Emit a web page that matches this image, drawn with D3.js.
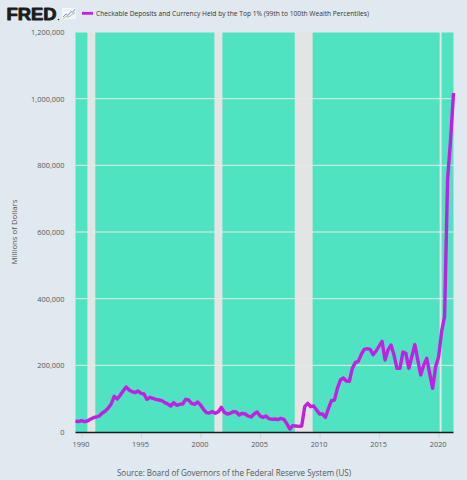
<!DOCTYPE html>
<html>
<head>
<meta charset="utf-8">
<script src="https://cdn.jsdelivr.net/npm/d3@7"></script>
<style>
    body { margin: 0; background: #e1e9f0; }
    svg { display: block; }
</style>
</head>
<body>
<div id="canvas"></div>
<script>
"use strict"

/* Quarterly values, millions of dollars, 1989Q3 through 2021Q2 */
let deposits = [
    33000, 31000, 34000, 31000,          // 1989Q3 - 1990Q2
    33000, 38000, 43000, 45000,          // 1990Q3 - 1991Q2
    48000, 57000, 63000, 72000,
    84000, 107000, 99000, 110000,
    123000, 135000, 126000, 121000,
    118000, 123000, 116000, 114000,
    98000, 104000, 101000, 98000,        // 1995Q3 - 1996Q2
    96000, 94000, 88000, 84000,
    78000, 88000, 80000, 83000,
    84000, 98000, 96000, 86000,
    83000, 90000, 81000, 68000,
    58000, 57000, 61000, 56000,          // 2000Q3 - 2001Q2
    61000, 74000, 59000, 54000,
    56000, 61000, 60000, 51000,
    56000, 54000, 48000, 45000,
    54000, 60000, 48000, 44000,
    48000, 40000, 38000, 39000,          // 2005Q3 - 2006Q2
    37000, 41000, 38000, 25000,
    9000, 19000, 18000, 17000,
    18000, 76000, 86000, 76000,
    78000, 66000, 54000, 54000,
    44000, 71000, 94000, 96000,          // 2010Q3 - 2011Q2
    131000, 156000, 162000, 153000,
    152000, 191000, 208000, 212000,
    232000, 248000, 250000, 248000,
    232000, 243000, 258000, 272000,
    216000, 246000, 261000, 231000,      // 2015Q3 - 2016Q2
    191000, 191000, 240000, 236000,
    191000, 226000, 262000, 216000,
    171000, 201000, 221000, 176000,
    131000, 196000, 226000, 301000,
    346000, 757000, 876000, 1017000      // 2020Q3 - 2021Q2
];

let firstQuarter = new Date(1989, 6, 1);
let lastQuarter = new Date(2021, 3, 1);

// NBER recessions shown as bands
let recessionStarts = ["1990-07-01", "2001-03-01", "2007-12-01", "2020-02-01"];
let recessionEnds = ["1991-03-01", "2001-11-01", "2009-06-01", "2020-04-01"];

let yTickValues = [0, 200000, 400000, 600000, 800000, 1000000, 1200000];
let xTickYears = [1990, 1995, 2000, 2005, 2010, 2015, 2020];

let seriesTitle = "Checkable Deposits and Currency Held by the Top 1% (99th to 100th Wealth Percentiles)";
let yTitle = "Millions of Dollars";
let sourceText = "Source: Board of Governors of the Federal Reserve System (US)";

/* set up the drawing canvas */
let drawing = d3.select("#canvas")
    .append("svg")
    .attr("width", 467)
    .attr("height", 480);

let parseDate = d3.timeParse("%Y-%m-%d");
let quarters = d3.timeMonth.range(firstQuarter, d3.timeMonth.offset(lastQuarter, 1), 3);
let points = quarters.map((d, i) => ({ date: d, value: deposits[i] }));

let plotLeft = 75.5, plotRight = 453.5, plotTop = 32, plotBottom = 432;

let x = d3.scaleTime()
    .domain([firstQuarter, lastQuarter])
    .range([plotLeft, plotRight]);

let y = d3.scaleLinear()
    .domain([0, 1200000])
    .range([plotBottom, plotTop]);

// plot background
drawing.append("rect")
    .attr("x", plotLeft)
    .attr("y", plotTop)
    .attr("width", plotRight - plotLeft)
    .attr("height", plotBottom - plotTop)
    .attr("fill", "#50e3c2");

// recession bands
drawing.append("g")
    .selectAll("rect")
    .data(recessionStarts)
    .join("rect")
    .attr("x", d => x(parseDate(d)))
    .attr("y", plotTop)
    .attr("width", (d, i) => x(parseDate(recessionEnds[i])) - x(parseDate(d)))
    .attr("height", plotBottom - plotTop)
    .attr("fill", "#e4e4e4");

// horizontal grid lines
drawing.append("g")
    .selectAll("line")
    .data(yTickValues.slice(1))
    .join("line")
    .attr("x1", plotLeft)
    .attr("x2", plotRight)
    .attr("y1", d => y(d))
    .attr("y2", d => y(d))
    .attr("stroke", "#e2ebe8")
    .attr("stroke-width", 1);

// y axis labels
let yAxis = drawing.append("g")
    .attr("transform", "translate(" + (plotLeft - 11) + ",0)")
    .call(d3.axisLeft(y).tickValues(yTickValues).tickSize(0).tickFormat(d3.format(",")));
yAxis.select(".domain").remove();
yAxis.selectAll("text")
    .attr("x", 0)
    .attr("font-family", "Open Sans")
    .attr("font-size", 7.4)
    .attr("fill", "#555");

// x axis
let xAxis = drawing.append("g")
    .attr("transform", "translate(0," + plotBottom + ")")
    .call(d3.axisBottom(x)
        .tickValues(xTickYears.map(yr => new Date(yr, 0, 1)))
        .tickSize(6)
        .tickPadding(4)
        .tickFormat(d3.timeFormat("%Y")));
xAxis.select(".domain").remove();
xAxis.selectAll("line").attr("stroke", "#c8d3e6");
xAxis.selectAll("text")
    .attr("dx", -1)
    .attr("font-family", "Open Sans")
    .attr("font-size", 7.4)
    .attr("fill", "#555");

drawing.append("line")
    .attr("x1", plotLeft)
    .attr("x2", plotRight)
    .attr("y1", plotBottom + 0.5)
    .attr("y2", plotBottom + 0.5)
    .attr("stroke", "#1a1a1a")
    .attr("stroke-width", 1.6);

// the series line
let line = d3.line()
    .x(d => x(d.date))
    .y(d => y(d.value));

drawing.append("path")
    .datum(points)
    .attr("d", line)
    .attr("fill", "none")
    .attr("stroke", "#c21fe3")
    .attr("stroke-width", 3.4)
    .attr("stroke-linejoin", "round");

// y axis title
drawing.append("text")
    .attr("transform", "translate(17," + ((plotTop + plotBottom) / 2) + ") rotate(-90)")
    .attr("text-anchor", "middle")
    .attr("font-family", "Open Sans")
    .attr("font-size", 7.8)
    .attr("fill", "#555")
    .text(yTitle);

// FRED logo and small graph icon
drawing.append("text")
    .attr("x", 6.5)
    .attr("y", 20)
    .attr("font-family", "Liberation Sans")
    .attr("font-weight", "bold")
    .attr("font-size", 16.5)
    .attr("textLength", 50)
    .attr("lengthAdjust", "spacingAndGlyphs")
    .attr("fill", "#1c1c1c")
    .attr("stroke", "#1c1c1c")
    .attr("stroke-width", 0.9)
    .attr("stroke-linejoin", "round")
    .text("FRED");

drawing.append("circle")
    .attr("cx", 58.5)
    .attr("cy", 19.5)
    .attr("r", 0.8)
    .attr("fill", "#1c1c1c");

drawing.append("rect")
    .attr("x", 62)
    .attr("y", 8)
    .attr("width", 14)
    .attr("height", 11)
    .attr("fill", "#f2f4f7");

drawing.append("polyline")
    .attr("points", "63,17 66,14 68,15.5 71,11.5 73,12.5 75,9")
    .attr("fill", "none")
    .attr("stroke", "#7a9cc6")
    .attr("stroke-width", 1);

drawing.append("polyline")
    .attr("points", "63,18.5 66,16.5 69,17 72,14.5 75,13")
    .attr("fill", "none")
    .attr("stroke", "#9cc28a")
    .attr("stroke-width", 0.9);

// legend
drawing.append("line")
    .attr("x1", 82)
    .attr("x2", 93)
    .attr("y1", 13.3)
    .attr("y2", 13.3)
    .attr("stroke", "#c21fe3")
    .attr("stroke-width", 2.8);

drawing.append("text")
    .attr("x", 96)
    .attr("y", 15.8)
    .attr("font-family", "Open Sans")
    .attr("font-size", 7.2)
    .attr("textLength", 273)
    .attr("lengthAdjust", "spacingAndGlyphs")
    .attr("fill", "#333")
    .text(seriesTitle);

// source note
drawing.append("text")
    .attr("x", 234)
    .attr("y", 476)
    .attr("text-anchor", "middle")
    .attr("font-family", "Open Sans")
    .attr("font-size", 8.2)
    .attr("textLength", 234)
    .attr("lengthAdjust", "spacingAndGlyphs")
    .attr("fill", "#555")
    .text(sourceText);
</script>
</body>
</html>
